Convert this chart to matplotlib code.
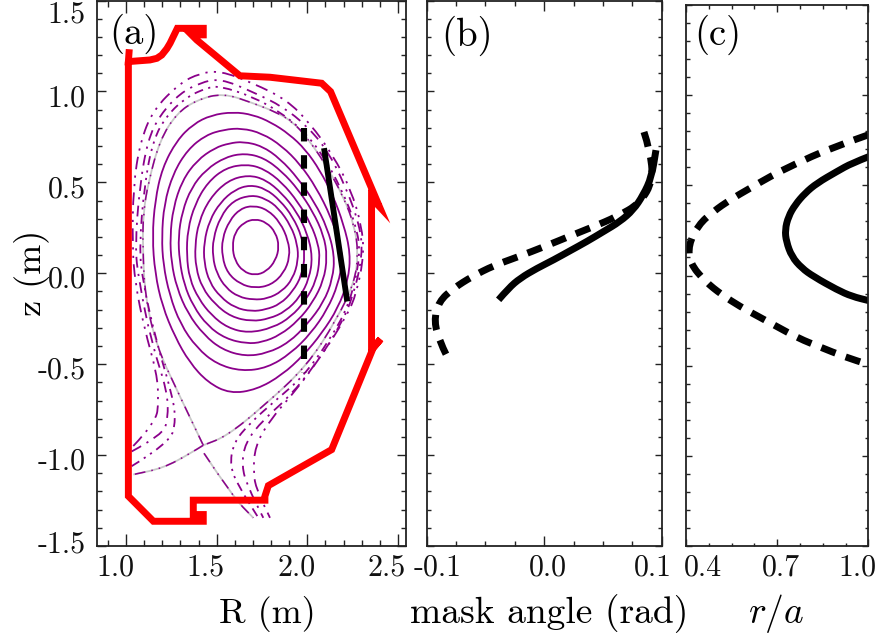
import matplotlib
matplotlib.use("Agg")
import matplotlib.pyplot as plt
from matplotlib.path import Path
from matplotlib.patches import PathPatch
from matplotlib.ticker import FixedLocator
from matplotlib.transforms import ScaledTranslation
import numpy as np

plt.rcParams['font.family'] = ['cmr10', 'DejaVu Sans']
plt.rcParams['mathtext.fontset'] = 'cm'
plt.rcParams['axes.unicode_minus'] = False

# vessel wall (R, z)
wall = [(1.018, 1.232), (1.013, 1.164), (1.132, 1.173), (1.170, 1.182), (1.197, 1.200), (1.225, 1.235), (1.243, 1.265),
        (1.283, 1.347), (1.426, 1.347), (1.426, 1.311), (1.362, 1.311), (1.390, 1.283), (1.628, 1.086), (1.794, 1.078),
        (2.079, 1.045), (2.128, 0.999), (2.397, 0.367), (2.354, 0.413), (2.354, -0.420), (2.404, -0.362),
        (2.363, -0.411), (2.134, -0.970), (1.785, -1.168), (1.766, -1.226), (1.766, -1.248), (1.371, -1.248),
        (1.371, -1.327), (1.426, -1.327), (1.426, -1.364), (1.151, -1.364), (1.013, -1.226), (1.013, 1.164)]

# closed flux surfaces, inner to outer
surf_1 = [(1.711, .299), (1.775, .28), (1.825, .225), (1.845, .147), (1.825, .07), (1.775, .01), (1.711, -.012),
          (1.645, .01), (1.60, .07), (1.586, .147), (1.60, .225), (1.65, .28)]
surf_2 = [(1.702, .373), (1.78, .35), (1.85, .28), (1.895, .18), (1.904, .09), (1.87, 0), (1.80, -.065), (1.711, -.082),
          (1.63, -.06), (1.56, 0), (1.53, .09), (1.53, .19), (1.57, .29), (1.63, .355)]
surf_3 = [(1.693, .431), (1.77, .41), (1.84, .36), (1.91, .26), (1.945, .16), (1.95, .07), (1.92, -.03), (1.86, -.10),
          (1.78, -.14), (1.702, -.146), (1.62, -.13), (1.55, -.08), (1.50, 0), (1.478, .09), (1.48, .19), (1.52, .31),
          (1.59, .40)]
surf_4 = [(1.684, .486), (1.77, .465), (1.85, .40), (1.92, .31), (1.97, .20), (1.987, .10), (1.97, -.01), (1.92, -.10),
          (1.85, -.17), (1.77, -.20), (1.693, -.21), (1.60, -.19), (1.52, -.13), (1.46, -.05), (1.43, .06), (1.43, .17),
          (1.46, .29), (1.52, .39), (1.60, .46)]
surf_5 = [(1.674, .541), (1.77, .515), (1.86, .44), (1.94, .34), (2.00, .22), (2.029, .09), (2.01, -.03), (1.96, -.13),
          (1.88, -.21), (1.79, -.25), (1.693, -.265), (1.58, -.24), (1.49, -.17), (1.42, -.08), (1.385, .03), (1.38, .15),
          (1.40, .28), (1.46, .41), (1.56, .51)]
surf_6 = [(1.665, .600), (1.76, .575), (1.86, .50), (1.95, .39), (2.02, .27), (2.06, .16), (2.069, .08), (2.05, -.04),
          (1.99, -.15), (1.91, -.24), (1.81, -.30), (1.674, -.329), (1.56, -.30), (1.47, -.23), (1.40, -.14), (1.35, -.03),
          (1.334, .10), (1.34, .24), (1.38, .38), (1.45, .50), (1.55, .58)]
surf_7 = [(1.656, .660), (1.76, .635), (1.86, .56), (1.95, .46), (2.03, .34), (2.09, .21), (2.11, .09), (2.09, -.04),
          (2.03, -.16), (1.95, -.26), (1.85, -.34), (1.75, -.38), (1.665, -.387), (1.55, -.36), (1.45, -.29), (1.37, -.18),
          (1.32, -.06), (1.295, .07), (1.288, .20), (1.31, .34), (1.36, .47), (1.44, .57), (1.55, .64)]
surf_8 = [(1.647, .724), (1.75, .70), (1.85, .63), (1.95, .52), (2.04, .39), (2.11, .25), (2.15, .10), (2.14, -.03),
          (2.09, -.16), (2.00, -.28), (1.90, -.38), (1.78, -.44), (1.656, -.457), (1.53, -.42), (1.43, -.34), (1.34, -.22),
          (1.28, -.08), (1.25, .06), (1.243, .20), (1.26, .36), (1.31, .51), (1.39, .62), (1.49, .69), (1.57, .715)]
surf_9 = [(1.638, .798), (1.75, .77), (1.86, .70), (1.96, .60), (2.05, .47), (2.13, .31), (2.18, .16), (2.194, .07),
          (2.17, -.06), (2.11, -.20), (2.02, -.33), (1.91, -.44), (1.78, -.52), (1.638, -.539), (1.50, -.50), (1.39, -.41),
          (1.30, -.28), (1.24, -.12), (1.205, .05), (1.197, .20), (1.21, .38), (1.26, .55), (1.34, .68), (1.44, .76),
          (1.54, .79)]
surf_10 = [(1.592, .887), (1.70, .872), (1.80, .830), (1.90, .765), (1.99, .680), (2.07, .565), (2.14, .43), (2.20, .27),
           (2.238, .11), (2.225, -.04), (2.17, -.19), (2.08, -.33), (1.98, -.45), (1.86, -.56), (1.72, -.64), (1.573, -.662),
           (1.45, -.60), (1.35, -.49), (1.27, -.35), (1.20, -.18), (1.16, .0), (1.145, .2), (1.16, .40), (1.20, .58),
           (1.28, .73), (1.37, .82), (1.47, .87)]
closed_surfaces = [surf_1, surf_2, surf_3, surf_4, surf_5, surf_6, surf_7, surf_8, surf_9, surf_10]

# separatrix and its legs
sep_core = [(1.426, -.946), (1.279, -.640), (1.169, -.402), (1.105, -.127), (1.092, .147), (1.095, .33), (1.123, .50),
            (1.187, .733), (1.28, .88), (1.39, .953), (1.535, .991), (1.70, .936), (1.83, .885), (1.92, .832), (2.0, .744),
            (2.10, .60), (2.20, .42), (2.26, .26), (2.281, .11), (2.26, -.05), (2.161, -.256), (1.996, -.512),
            (1.757, -.732), (1.555, -.896), (1.426, -.946)]
sep_leg_in = [(1.426, -.946), (1.353, -.992), (1.206, -1.071), (1.04, -1.107)]
sep_leg_out = [(1.43, -.99), (1.59, -1.23), (1.702, -1.345)]

# open surfaces in the scrape-off layer
sol_a = [(1.031, -1.061), (1.243, -.933), (1.276, -.805), (1.252, -.658), (1.169, -.384), (1.09, -.036), (1.074, .147),
         (1.10, .476), (1.149, .733), (1.226, .87), (1.336, .97), (1.447, 1.02), (1.518, 1.03), (1.70, .970), (1.849, .887),
         (1.97, .79), (2.08, .66), (2.19, .46), (2.27, .26), (2.294, .1), (2.235, -.164), (2.125, -.365), (1.978, -.567),
         (1.83, -.695), (1.684, -.823), (1.592, -.933), (1.573, -1.061), (1.62, -1.17), (1.73, -1.345)]
sol_b = [(1.031, -.98), (1.20, -.89), (1.232, -.80), (1.228, -.65), (1.14, -.38), (1.07, -.036), (1.05, .147),
         (1.075, .476), (1.12, .733), (1.187, .87), (1.298, .99), (1.408, 1.047), (1.518, 1.072), (1.70, .997), (1.867, .915),
         (1.997, .81), (2.108, .68), (2.21, .48), (2.29, .26), (2.305, .1), (2.253, -.127), (2.18, -.292), (2.05, -.494),
         (1.904, -.677), (1.757, -.805), (1.656, -.933), (1.638, -1.061), (1.67, -1.17), (1.757, -1.345)]
sol_c = [(1.04, -.95), (1.165, -.82), (1.18, -.70), (1.17, -.55), (1.10, -.30), (1.05, -.05), (1.035, .147), (1.04, .476),
         (1.077, .717), (1.149, .898), (1.298, 1.046), (1.408, 1.10), (1.518, 1.114), (1.70, 1.046), (1.887, .953),
         (2.014, .825), (2.141, .65), (2.24, .46), (2.30, .26), (2.312, .1), (2.272, -.109), (2.216, -.237), (2.088, -.439),
         (1.941, -.640), (1.794, -.805), (1.711, -.952), (1.702, -1.098), (1.72, -1.19), (1.794, -1.345)]

# mask traces on panel (a)
mask_solid_R = [2.092, 2.22]
mask_solid_z = [.688, -.155]
mask_dash_R = [1.981, 1.981]
mask_dash_z = [.80, -.55]

# panel (b)
b_solid = [(-.0388, -.146), (-.0303, -.082), (-.0204, -.027), (-.0062, .027), (.0079, .073), (.0221, .124), (.0362, .174),
           (.0504, .229), (.0645, .284), (.0758, .348), (.0843, .430), (.0914, .530), (.0951, .677)]
b_dash = [(.0849, .777), (.09, .677), (.0928, .512), (.0815, .384), (.0617, .311), (.0419, .256), (.0221, .205),
          (.0023, .152), (-.0232, .088), (-.043, .042), (-.0614, -.018), (-.077, -.082), (-.0897, -.155), (-.0939, -.265),
          (-.0883, -.384), (-.0798, -.494)]

# panel (c)
c_solid = [(1.003, .66), (.946, .623), (.897, .577), (.831, .512), (.792, .457), (.759, .392), (.737, .327), (.726, .253),
           (.73, .189), (.748, .105), (.781, .041), (.82, -.006), (.897, -.079), (.946, -.116), (1.003, -.14)]
c_dash = [(1.0, .78), (.875, .706), (.754, .614), (.677, .549), (.611, .484), (.545, .42), (.49, .355), (.441, .281),
          (.408, .17), (.413, .068), (.463, -.033), (.518, -.107), (.578, -.172), (.638, -.227), (.699, -.283), (.77, -.348),
          (.842, -.397), (.919, -.449), (1.003, -.495)]

z_major = [-1.5, -1.0, -0.5, 0.0, 0.5, 1.0, 1.5]
z_labels = ['-1.5', '-1.0', '-0.5', '0.0', '0.5', '1.0', '1.5']
z_minor = [i / 10 for i in range(-15, 16)]
z_shift_px = [4, -4, -4, -4, -4, -4, -11]

PURPLE = '#8b008b'
W, H = 878, 638
px = 0.72  # points per pixel at dpi 100


def smooth(points, closed=False):
    pts = np.array(points, dtype=float)
    verts, codes = [], []
    if closed:
        start = (pts[-1] + pts[0]) / 2
        verts.append(start)
        codes.append(Path.MOVETO)
        for i in range(len(pts)):
            verts += [pts[i], (pts[i] + pts[(i + 1) % len(pts)]) / 2]
            codes += [Path.CURVE3, Path.CURVE3]
    else:
        verts.append(pts[0])
        codes.append(Path.MOVETO)
        for i in range(1, len(pts) - 1):
            verts += [pts[i], (pts[i] + pts[i + 1]) / 2]
            codes += [Path.CURVE3, Path.CURVE3]
        verts.append(pts[-1])
        codes.append(Path.LINETO)
    return Path(verts, codes)


def curve(ax, points, closed=False, **kw):
    ax.add_patch(PathPatch(smooth(points, closed), fill=False, **kw))


def make_axes(left, right, top, bottom=546):
    return fig.add_axes([left / W, 1 - bottom / H, (right - left) / W, (bottom - top) / H])


def style_axes(ax, xticks, xlabels, xminor, xshift, xlim, xmaj_len, xmin_len, ymaj_len=9, ymin_len=5, yticklabels=False):
    ax.set_xlim(*xlim)
    ax.set_ylim(-1.5, 1.5)
    ax.xaxis.set_major_locator(FixedLocator(xticks))
    ax.xaxis.set_minor_locator(FixedLocator(xminor))
    ax.yaxis.set_major_locator(FixedLocator(z_major))
    ax.yaxis.set_minor_locator(FixedLocator(z_minor))
    ax.set_xticklabels(xlabels)
    ax.set_yticklabels(z_labels if yticklabels else [])
    for s in ax.spines.values():
        s.set_linewidth(1.3)
        s.set_color('#222222')
    ax.tick_params(axis='x', which='major', direction='in', top=True, length=xmaj_len * px, width=1.0, color='#222222',
                   labelsize=21.5, pad=6, labelcolor='#111111')
    ax.tick_params(axis='x', which='minor', direction='in', top=True, length=xmin_len * px, width=1.0, color='#222222')
    ax.tick_params(axis='y', which='major', direction='in', right=True, length=ymaj_len * px, width=1.0, color='#222222',
                   labelsize=21.5, pad=8, labelcolor='#111111')
    ax.tick_params(axis='y', which='minor', direction='in', right=True, length=ymin_len * px, width=1.0, color='#222222')
    for lab, dx in zip(ax.get_xticklabels(), xshift):
        lab.set_transform(lab.get_transform() + ScaledTranslation(dx / 100, 0, fig.dpi_scale_trans))
    if yticklabels:
        for lab, dy in zip(ax.get_yticklabels(), z_shift_px):
            lab.set_transform(lab.get_transform() + ScaledTranslation(0, dy / 100, fig.dpi_scale_trans))


fig = plt.figure(figsize=(W / 100, H / 100), dpi=100)

# panel (a)
ax1 = make_axes(97, 406, 0.5)
style_axes(ax1, [1.0, 1.5, 2.0, 2.5], ['1.0', '1.5', '2.0', '2.5'], [0.9 + i / 10 for i in range(17)],
           [-11, -11, -11, -11], (0.84, 2.544), 12, 6, yticklabels=True)

for s in closed_surfaces:
    curve(ax1, s, closed=True, color=PURPLE, lw=1.3)

for p in (sep_core, sep_leg_in, sep_leg_out):
    curve(ax1, p, color='#c8c8c8', lw=1.3)
    curve(ax1, p, color=PURPLE, lw=1.1, linestyle=(0, (7, 4, 1, 4, 1, 4)))
curve(ax1, sol_a, color=PURPLE, lw=1.3, linestyle=(0, (5, 3, 1.2, 3, 1.2, 3)))
curve(ax1, sol_b, color=PURPLE, lw=1.3, linestyle=(0, (6, 3.5, 1.2, 3.5)))
curve(ax1, sol_c, color=PURPLE, lw=1.3, linestyle=(0, (7, 3.5, 1.2, 3.5, 1.2, 3.5)))

wall_arr = np.array(wall)
ax1.plot(wall_arr[:, 0], wall_arr[:, 1], color='#ff0000', lw=5.0, solid_joinstyle='miter', solid_capstyle='butt')

ax1.plot(mask_dash_R, mask_dash_z, color='black', lw=4.4, linestyle=(0, (2.2, 2.25)), dash_capstyle='butt')
ax1.plot(mask_solid_R, mask_solid_z, color='black', lw=4.2, solid_capstyle='butt')

ax1.set_ylabel('z (m)', fontsize=26)
ax1.yaxis.set_label_coords(-0.152, 0.5)
ax1.set_xlabel('R (m)', fontsize=26)
ax1.xaxis.set_label_coords(0.551, -0.141)
ax1.xaxis.label.set_va('baseline')
ax1.text(0.121, 0.938, '(a)', transform=ax1.transAxes, fontsize=28, ha='center', va='center')

# panel (b)
ax2 = make_axes(426.7, 661.7, 0.5)
style_axes(ax2, [-0.1, 0.0, 0.1], ['-0.1', '0.0', '0.1'], [-0.075, -0.05, -0.025, 0.025, 0.05, 0.075], [11, 4, -9],
           (-0.1, 0.1), 10, 5, 7, 4)
curve(ax2, b_solid, color='black', lw=5.0, capstyle='butt')
curve(ax2, b_dash, color='black', lw=5.0, linestyle=(0, (2.2, 1.55)), capstyle='butt')
ax2.set_xlabel('mask angle (rad)', fontsize=27)
ax2.xaxis.set_label_coords(0.521, -0.141)
ax2.xaxis.label.set_va('baseline')
ax2.text(0.17, 0.936, '(b)', transform=ax2.transAxes, fontsize=28, ha='center', va='center')

# panel (c)
ax3 = make_axes(686, 868.3, 5)
style_axes(ax3, [0.4, 0.7, 1.0], ['0.4', '0.7', '1.0'], [0.475, 0.55, 0.625, 0.775, 0.85, 0.925], [17, 4, -11],
           (0.4, 1.0), 7, 3.5, 6, 3.5)
curve(ax3, c_solid, color='black', lw=5.0, capstyle='butt')
curve(ax3, c_dash, color='black', lw=5.0, linestyle=(0, (2.2, 1.55)), capstyle='butt')
ax3.set_xlabel('$r/a$', fontsize=27)
ax3.xaxis.set_label_coords(0.497, -0.142)
ax3.xaxis.label.set_va('baseline')
ax3.text(0.175, 0.945, '(c)', transform=ax3.transAxes, fontsize=28, ha='center', va='center')

fig.savefig('out.png', dpi=100)
